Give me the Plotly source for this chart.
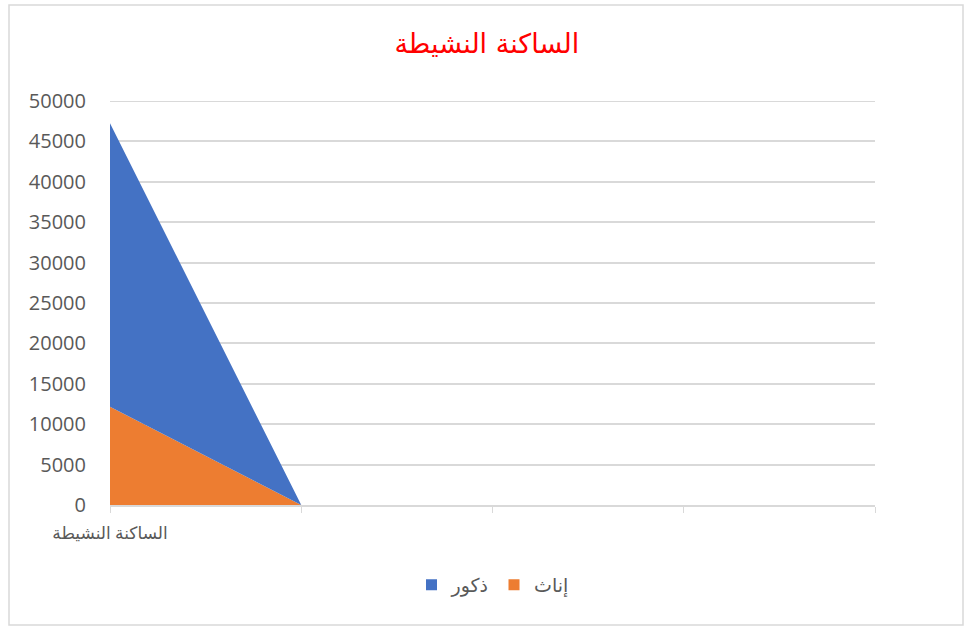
import plotly.graph_objects as go

categories = ["الساكنة النشيطة", "", "", "", ""]
positions = [0, 1, 2, 3, 4]
females = [12150, 0, 0, 0, 0]
males = [35100, 0, 0, 0, 0]
y_ticks = [0, 5000, 10000, 15000, 20000, 25000, 30000, 35000, 40000, 45000, 50000]

BLUE = "#4472C4"
ORANGE = "#ED7D31"
GRID = "#d9d9d9"
FONT = "Open Sans, DejaVu Sans, sans-serif"

fig = go.Figure()
fig.add_trace(go.Scatter(x=positions, y=females, stackgroup="s", mode="none",
                         fillcolor=ORANGE, name="إناث", showlegend=False))
fig.add_trace(go.Scatter(x=positions, y=males, stackgroup="s", mode="none",
                         fillcolor=BLUE, name="ذكور", showlegend=False))
# legend entries
fig.add_trace(go.Scatter(x=[None], y=[None], mode="markers", name="ذكور",
                         marker=dict(symbol="square", size=11, color=BLUE), legendrank=1))
fig.add_trace(go.Scatter(x=[None], y=[None], mode="markers", name="إناث",
                         marker=dict(symbol="square", size=11, color=ORANGE), legendrank=2))

fig.update_layout(
    width=964, height=626,
    margin=dict(l=110, r=89, t=101, b=121),
    paper_bgcolor="white", plot_bgcolor="white",
    font=dict(family=FONT, color="#595959"),
    title=dict(text="الساكنة النشيطة", x=0.505, xanchor="center", y=1 - 44 / 626, yanchor="middle",
               font=dict(size=27, color="#FF0000", family="DejaVu Sans, sans-serif")),
    showlegend=True,
    legend=dict(orientation="h", x=0.5, xanchor="center", y=-0.198, yanchor="middle",
                traceorder="normal",
                font=dict(size=19, color="#595959"), itemwidth=30),
    xaxis=dict(range=[0, 4], tickvals=positions, ticktext=categories, showgrid=False,
               showline=True, linecolor=GRID, linewidth=1.5, ticks="outside", ticklen=6,
               tickcolor=GRID, tickfont=dict(size=17, color="#595959"), zeroline=False,
               ticklabelstandoff=6),
    yaxis=dict(range=[0, 50000], tickvals=y_ticks, tickformat="d", showgrid=True,
               gridcolor=GRID, gridwidth=1.5,
               zeroline=False, showline=False, tickfont=dict(size=20, color="#595959"),
               ticks="", ticklabelstandoff=23),
    shapes=[
        dict(type="line", xref="paper", yref="y", x0=0, x1=1, y0=y_ticks[-1], y1=y_ticks[-1],
             line=dict(color=GRID, width=2), layer="above"),
        dict(type="rect", xref="paper", yref="paper",
             x0=(9 - 110) / 765, x1=(963 - 110) / 765,
             y0=(505 - 625) / 404, y1=(505 - 5) / 404,
             line=dict(color=GRID, width=1.5), fillcolor="rgba(0,0,0,0)"),
    ],
)

fig.write_html("out.html", config={"displayModeBar": False},
               post_script="document.body.style.margin='0';")
